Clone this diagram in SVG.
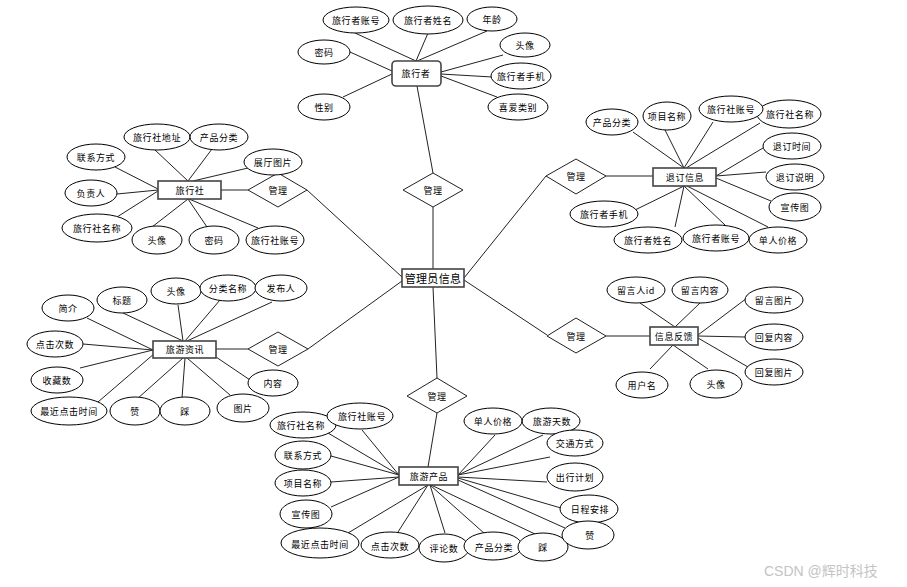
<svg xmlns="http://www.w3.org/2000/svg" width="907" height="587" viewBox="0 0 907 587">
<style>
text{font-family:"Noto Sans CJK SC","Liberation Sans",sans-serif;font-size:9px;letter-spacing:0.6px;text-anchor:middle;dominant-baseline:central;fill:#000}
.a ellipse{fill:#fff;stroke:#000;stroke-width:1}
.e rect{fill:#fff;stroke:#444;stroke-width:1.6}
.r polygon{fill:#fff;stroke:#222;stroke-width:1}
.c line{stroke:#222;stroke-width:1}
.big{font-size:11px;letter-spacing:0.3px}
.wm{font-family:"Liberation Sans","Noto Sans CJK SC",sans-serif;font-size:14px;fill:#c4c4c4;text-anchor:start;letter-spacing:0}
</style>
<rect width="907" height="587" fill="#fff"/>
<g id="connectors" class="c">
<!-- 旅行者 -->
<line x1="355" y1="33" x2="416" y2="61"/>
<line x1="428" y1="33" x2="416" y2="61"/>
<line x1="487" y1="31" x2="417" y2="61"/>
<line x1="503" y1="55" x2="441" y2="72"/>
<line x1="492" y1="77" x2="441" y2="74"/>
<line x1="497" y1="97" x2="441" y2="76"/>
<line x1="350" y1="52" x2="392" y2="71"/>
<line x1="343" y1="97" x2="392" y2="74"/>
<line x1="417" y1="86" x2="433" y2="173"/>
<line x1="433" y1="207" x2="433" y2="269"/>
<!-- admin links -->
<line x1="464" y1="278" x2="546" y2="176"/>
<line x1="464" y1="280" x2="547" y2="335"/>
<line x1="433" y1="287" x2="437" y2="378"/>
<line x1="307" y1="190" x2="402" y2="277"/>
<line x1="402" y1="281" x2="308" y2="349"/>
<!-- 旅行社 -->
<line x1="155" y1="150" x2="188" y2="181"/>
<line x1="212" y1="149" x2="188" y2="181"/>
<line x1="115" y1="167" x2="158" y2="189"/>
<line x1="248" y1="168" x2="193" y2="181"/>
<line x1="117" y1="194" x2="158" y2="190"/>
<line x1="117" y1="217" x2="158" y2="191"/>
<line x1="152" y1="227" x2="188" y2="199"/>
<line x1="207" y1="227" x2="188" y2="199"/>
<line x1="258" y1="228" x2="189" y2="199"/>
<line x1="221" y1="190" x2="248" y2="190"/>
<!-- 旅游资讯 -->
<line x1="87" y1="318" x2="153" y2="350"/>
<line x1="123" y1="313" x2="183" y2="341"/>
<line x1="178" y1="305" x2="183" y2="341"/>
<line x1="220" y1="300" x2="185" y2="341"/>
<line x1="272" y1="302" x2="187" y2="341"/>
<line x1="83" y1="344" x2="153" y2="350"/>
<line x1="80" y1="368" x2="153" y2="350"/>
<line x1="98" y1="402" x2="155" y2="353"/>
<line x1="137" y1="399" x2="183" y2="358"/>
<line x1="182" y1="398" x2="185" y2="358"/>
<line x1="230" y1="395" x2="187" y2="358"/>
<line x1="253" y1="382" x2="216" y2="357"/>
<line x1="216" y1="349" x2="248" y2="349"/>
<!-- 退订信息 -->
<line x1="633" y1="132" x2="684" y2="168"/>
<line x1="665" y1="130" x2="684" y2="168"/>
<line x1="713" y1="122" x2="684" y2="168"/>
<line x1="760" y1="123" x2="686" y2="168"/>
<line x1="763" y1="148" x2="716" y2="176"/>
<line x1="766" y1="172" x2="716" y2="176"/>
<line x1="771" y1="201" x2="716" y2="178"/>
<line x1="768" y1="227" x2="687" y2="186"/>
<line x1="725" y1="225" x2="684" y2="186"/>
<line x1="675" y1="227" x2="684" y2="186"/>
<line x1="635" y1="210" x2="684" y2="186"/>
<line x1="606" y1="176" x2="653" y2="176"/>
<!-- 信息反馈 -->
<line x1="640" y1="303" x2="675" y2="327"/>
<line x1="700" y1="303" x2="675" y2="327"/>
<line x1="747" y1="298" x2="698" y2="335"/>
<line x1="745" y1="337" x2="698" y2="336"/>
<line x1="748" y1="367" x2="698" y2="338"/>
<line x1="650" y1="369" x2="673" y2="345"/>
<line x1="708" y1="369" x2="673" y2="345"/>
<line x1="606" y1="336" x2="650" y2="336"/>
<!-- 旅游产品 -->
<line x1="437" y1="413" x2="428" y2="467"/>
<line x1="328" y1="433" x2="399" y2="475"/>
<line x1="362" y1="430" x2="399" y2="475"/>
<line x1="331" y1="456" x2="399" y2="475"/>
<line x1="331" y1="482" x2="399" y2="477"/>
<line x1="331" y1="507" x2="399" y2="477"/>
<line x1="348" y1="533" x2="428" y2="485"/>
<line x1="398" y1="532" x2="428" y2="485"/>
<line x1="445" y1="533" x2="430" y2="485"/>
<line x1="485" y1="534" x2="430" y2="485"/>
<line x1="535" y1="534" x2="431" y2="485"/>
<line x1="565" y1="528" x2="458" y2="480"/>
<line x1="561" y1="508" x2="458" y2="478"/>
<line x1="547" y1="482" x2="458" y2="477"/>
<line x1="550" y1="457" x2="458" y2="475"/>
<line x1="543" y1="435" x2="458" y2="475"/>
<line x1="495" y1="435" x2="458" y2="475"/>
</g>

<g id="rel-traveler" class="r"><polygon points="433,173 463,190 433,207 403,190"/><text x="433" y="190">管理</text></g>
<g id="rel-agency" class="r"><polygon points="278,173 307,190 278,207 248,190"/><text x="278" y="190">管理</text></g>
<g id="rel-news" class="r"><polygon points="278,332 308,349 278,366 248,349"/><text x="278" y="349">管理</text></g>
<g id="rel-cancel" class="r"><polygon points="576,159 606,176 576,194 546,176"/><text x="576" y="176">管理</text></g>
<g id="rel-feedback" class="r"><polygon points="576,318 606,336 576,353 547,336"/><text x="576" y="336">管理</text></g>
<g id="rel-product" class="r"><polygon points="437,378 467,396 437,413 407,396"/><text x="437" y="396">管理</text></g>

<g id="admin" class="e"><rect x="402" y="269" width="62" height="18"/><text class="big" x="433" y="278">管理员信息</text></g>
<g id="traveler" class="e"><rect x="392" y="61" width="49" height="25" rx="4"/><text x="416" y="73.5">旅行者</text></g>
<g id="agency" class="e"><rect x="158" y="181" width="63" height="18"/><text x="190" y="190">旅行社</text></g>
<g id="news" class="e"><rect x="153" y="341" width="63" height="17"/><text x="185" y="349.5">旅游资讯</text></g>
<g id="cancel" class="e"><rect x="653" y="168" width="63" height="18"/><text x="685" y="177">退订信息</text></g>
<g id="feedback" class="e"><rect x="650" y="327" width="48" height="18"/><text x="674" y="336">信息反馈</text></g>
<g id="product" class="e"><rect x="399" y="467" width="59" height="18"/><text x="429" y="476">旅游产品</text></g>

<g id="traveler-attrs" class="a">
<g id="t1"><ellipse cx="356" cy="20" rx="33" ry="13"/><text x="356" y="20">旅行者账号</text></g>
<g id="t2"><ellipse cx="428" cy="20" rx="35" ry="14"/><text x="428" y="20">旅行者姓名</text></g>
<g id="t3"><ellipse cx="492" cy="19" rx="25" ry="12"/><text x="492" y="19">年龄</text></g>
<g id="t4"><ellipse cx="525" cy="45" rx="25" ry="12"/><text x="525" y="45">头像</text></g>
<g id="t5"><ellipse cx="521" cy="76" rx="30" ry="13"/><text x="521" y="76">旅行者手机</text></g>
<g id="t6"><ellipse cx="518" cy="107" rx="30" ry="13"/><text x="518" y="107">喜爱类别</text></g>
<g id="t7"><ellipse cx="324" cy="52" rx="26" ry="12"/><text x="324" y="52">密码</text></g>
<g id="t8"><ellipse cx="324" cy="107" rx="26" ry="13"/><text x="324" y="107">性别</text></g>
</g>

<g id="agency-attrs" class="a">
<g id="g1"><ellipse cx="157" cy="137" rx="33" ry="13"/><text x="157" y="137">旅行社地址</text></g>
<g id="g2"><ellipse cx="219" cy="137" rx="29" ry="13"/><text x="219" y="137">产品分类</text></g>
<g id="g3"><ellipse cx="96" cy="157" rx="29" ry="13"/><text x="96" y="157">联系方式</text></g>
<g id="g4"><ellipse cx="273" cy="162" rx="29" ry="13"/><text x="273" y="162">展厅图片</text></g>
<g id="g5"><ellipse cx="91" cy="193" rx="26" ry="13"/><text x="91" y="193">负责人</text></g>
<g id="g6"><ellipse cx="97" cy="228" rx="35" ry="14"/><text x="97" y="228">旅行社名称</text></g>
<g id="g7"><ellipse cx="157" cy="240" rx="25" ry="14"/><text x="157" y="240">头像</text></g>
<g id="g8"><ellipse cx="214" cy="240" rx="25" ry="14"/><text x="214" y="240">密码</text></g>
<g id="g9"><ellipse cx="275" cy="240" rx="29" ry="14"/><text x="275" y="240">旅行社账号</text></g>
</g>

<g id="news-attrs" class="a">
<g id="n1"><ellipse cx="68" cy="308" rx="26" ry="13"/><text x="68" y="308">简介</text></g>
<g id="n2"><ellipse cx="122" cy="300" rx="25" ry="13"/><text x="122" y="300">标题</text></g>
<g id="n3"><ellipse cx="176" cy="291" rx="25" ry="13"/><text x="176" y="291">头像</text></g>
<g id="n4"><ellipse cx="228" cy="288" rx="28" ry="13"/><text x="228" y="288">分类名称</text></g>
<g id="n5"><ellipse cx="281" cy="288" rx="26" ry="13"/><text x="281" y="288">发布人</text></g>
<g id="n6"><ellipse cx="55" cy="344" rx="28" ry="13"/><text x="55" y="344">点击次数</text></g>
<g id="n7"><ellipse cx="57" cy="380" rx="26" ry="13"/><text x="57" y="380">收藏数</text></g>
<g id="n8"><ellipse cx="69" cy="411" rx="38" ry="14"/><text x="69" y="411">最近点击时间</text></g>
<g id="n9"><ellipse cx="135" cy="411" rx="25" ry="14"/><text x="135" y="411">赞</text></g>
<g id="n10"><ellipse cx="185" cy="411" rx="25" ry="14"/><text x="185" y="411">踩</text></g>
<g id="n11"><ellipse cx="243" cy="408" rx="26" ry="14"/><text x="243" y="408">图片</text></g>
<g id="n12"><ellipse cx="273" cy="383" rx="25" ry="13"/><text x="273" y="383">内容</text></g>
</g>

<g id="cancel-attrs" class="a">
<g id="c1"><ellipse cx="612" cy="122" rx="26" ry="13"/><text x="612" y="122">产品分类</text></g>
<g id="c2"><ellipse cx="667" cy="116" rx="24" ry="14"/><text x="667" y="116">项目名称</text></g>
<g id="c4"><ellipse cx="789" cy="114" rx="32" ry="14"/><text x="790" y="114">旅行社名称</text></g>
<g id="c3"><ellipse cx="731" cy="109" rx="32" ry="13"/><text x="731" y="109">旅行社账号</text></g>
<g id="c5"><ellipse cx="792" cy="146" rx="29" ry="13"/><text x="792" y="146">退订时间</text></g>
<g id="c6"><ellipse cx="795" cy="177" rx="29" ry="13"/><text x="795" y="177">退订说明</text></g>
<g id="c7"><ellipse cx="795" cy="207" rx="26" ry="14"/><text x="795" y="207">宣传图</text></g>
<g id="c8"><ellipse cx="778" cy="240" rx="29" ry="13"/><text x="778" y="240">单人价格</text></g>
<g id="c9"><ellipse cx="716" cy="238" rx="33" ry="13"/><text x="716" y="238">旅行者账号</text></g>
<g id="c10"><ellipse cx="648" cy="240" rx="34" ry="13"/><text x="648" y="240">旅行者姓名</text></g>
<g id="c11"><ellipse cx="604" cy="214" rx="34" ry="13"/><text x="604" y="214">旅行者手机</text></g>
</g>

<g id="feedback-attrs" class="a">
<g id="f1"><ellipse cx="636" cy="290" rx="29" ry="13"/><text x="636" y="290">留言人id</text></g>
<g id="f2"><ellipse cx="700" cy="290" rx="28" ry="13"/><text x="700" y="290">留言内容</text></g>
<g id="f3"><ellipse cx="774" cy="300" rx="29" ry="13"/><text x="774" y="300">留言图片</text></g>
<g id="f4"><ellipse cx="774" cy="337" rx="29" ry="13"/><text x="774" y="337">回复内容</text></g>
<g id="f5"><ellipse cx="774" cy="372" rx="29" ry="13"/><text x="774" y="372">回复图片</text></g>
<g id="f6"><ellipse cx="642" cy="385" rx="26" ry="13"/><text x="642" y="385">用户名</text></g>
<g id="f7"><ellipse cx="716" cy="384" rx="26" ry="14"/><text x="716" y="384">头像</text></g>
</g>

<g id="product-attrs" class="a">
<g id="p1"><ellipse cx="303" cy="425" rx="33" ry="13"/><text x="301" y="425">旅行社名称</text></g>
<g id="p2"><ellipse cx="360" cy="416" rx="33" ry="13"/><text x="362" y="416">旅行社账号</text></g>
<g id="p3"><ellipse cx="303" cy="455" rx="28" ry="14"/><text x="303" y="455">联系方式</text></g>
<g id="p4"><ellipse cx="303" cy="483" rx="28" ry="13"/><text x="303" y="483">项目名称</text></g>
<g id="p5"><ellipse cx="306" cy="514" rx="26" ry="14"/><text x="306" y="514">宣传图</text></g>
<g id="p6"><ellipse cx="320" cy="543" rx="39" ry="15"/><text x="320" y="544">最近点击时间</text></g>
<g id="p7"><ellipse cx="390" cy="545" rx="29" ry="13"/><text x="390" y="546">点击次数</text></g>
<g id="p8"><ellipse cx="444" cy="548" rx="25" ry="14"/><text x="444" y="548">评论数</text></g>
<g id="p9"><ellipse cx="493" cy="546" rx="29" ry="14"/><text x="494" y="547">产品分类</text></g>
<g id="p10"><ellipse cx="543" cy="547" rx="25" ry="14"/><text x="543" y="547">踩</text></g>
<g id="p12"><ellipse cx="589" cy="509" rx="29" ry="14"/><text x="590" y="509">日程安排</text></g>
<g id="p11"><ellipse cx="588" cy="535" rx="26" ry="14"/><text x="590" y="535">赞</text></g>
<g id="p13"><ellipse cx="575" cy="477" rx="28" ry="14"/><text x="575" y="477">出行计划</text></g>
<g id="p15"><ellipse cx="551" cy="421" rx="29" ry="13"/><text x="552" y="421">旅游天数</text></g>
<g id="p14"><ellipse cx="575" cy="443" rx="28" ry="13"/><text x="575" y="443">交通方式</text></g>
<g id="p16"><ellipse cx="493" cy="421" rx="29" ry="13"/><text x="493" y="421">单人价格</text></g>
</g>

<text class="wm" x="764" y="571">CSDN @辉时科技</text>
</svg>
